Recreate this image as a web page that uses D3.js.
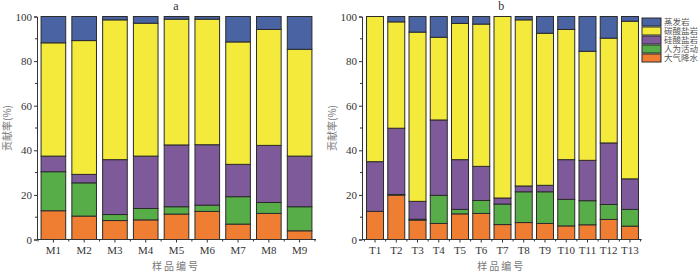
<!DOCTYPE html>
<html>
<head>
<meta charset="utf-8">
<script src="https://cdn.jsdelivr.net/npm/d3@7"></script>
<style>
  body { margin: 0; background: #fff; }
  svg { display: block; }
</style>
</head>
<body>
<svg id="chart" width="700" height="272"></svg>
<script>
// sources, bottom to top of each bar
const sources = ["大气降水", "人为活动", "硅酸盐岩", "碳酸盐岩", "蒸发岩"];
const colors = ["#ef7e32", "#57ae48", "#7f5a9a", "#f3ea3b", "#4a63a3"];

// panel a
const samplesA = ["M1", "M2", "M3", "M4", "M5", "M6", "M7", "M8", "M9"];
const rainA = [12.9, 10.5, 8.5, 8.8, 11.4, 12.6, 6.9, 11.7, 3.9];
const humanA = [17.5, 14.9, 2.7, 5.1, 3.3, 2.8, 12.3, 4.9, 10.8];
const silicateA = [7.0, 3.8, 24.6, 23.5, 27.7, 27.1, 14.5, 25.6, 22.7];
const carbonateA = [50.8, 60.0, 62.7, 59.6, 56.4, 56.3, 54.9, 52.0, 47.9];
const evaporiteA = [11.8, 10.8, 1.5, 3.0, 1.2, 1.2, 11.4, 5.8, 14.7];

// panel b
const samplesB = ["T1", "T2", "T3", "T4", "T5", "T6", "T7", "T8", "T9", "T10", "T11", "T12", "T13"];
const rainB = [12.6, 19.9, 8.7, 7.2, 11.5, 11.7, 6.7, 7.6, 7.2, 6.1, 6.6, 9.0, 6.0];
const humanB = [0, 0.3, 0.4, 12.6, 2.0, 5.8, 9.2, 13.8, 14.2, 11.9, 10.8, 6.7, 7.5];
const silicateB = [22.3, 29.7, 8.0, 33.8, 22.3, 15.3, 2.7, 2.6, 2.9, 17.8, 18.1, 27.6, 13.7];
const carbonateB = [65.1, 47.7, 75.9, 37.1, 61.1, 63.8, 81.4, 74.5, 68.2, 58.4, 48.9, 47.0, 70.7];
const evaporiteB = [0, 2.4, 7.0, 9.3, 3.1, 3.4, 0, 1.5, 7.5, 5.8, 15.6, 9.7, 2.1];

const yTicks = [0, 20, 40, 60, 80, 100];

const svg = d3.select("#chart");
const serif = "'Liberation Serif', 'Times New Roman', serif";
const cjk = "'Noto Sans CJK SC', sans-serif";

const y = d3.scaleLinear().domain([0, 100]).range([239.5, 16.5]);

function toRows(samples, cols) {
    return samples.map(function (s, i) {
        let r = {sample: s};
        sources.forEach(function (k, j) { r[k] = cols[j][i]; });
        return r;
    });
}

function panel(samples, cols, x0, x1, axisX, title) {
    let x = d3.scaleBand().domain(samples).range([x0, x1])
        .paddingInner(0.2).paddingOuter(0.1);
    let stacked = d3.stack().keys(sources)(toRows(samples, cols));

    let g = svg.append("g");
    g.selectAll("g.layer")
        .data(stacked)
        .enter().append("g")
        .attr("class", "layer")
        .attr("fill", function (d, i) { return colors[i]; })
        .selectAll("rect")
        .data(function (d) { return d; })
        .enter().append("rect")
        .filter(function (d) { return d[1] - d[0] > 0; })
        .attr("x", function (d) { return x(d.data.sample); })
        .attr("width", x.bandwidth())
        .attr("y", function (d) { return y(d[1]); })
        .attr("height", function (d) { return y(d[0]) - y(d[1]); })
        .attr("stroke", "#2b2b2b")
        .attr("stroke-width", 1);

    // left axis
    let yAxis = g.append("g").attr("transform", "translate(" + axisX + ",0)")
        .call(d3.axisLeft(y).tickValues(yTicks).tickSize(3).tickPadding(2));
    yAxis.append("g").selectAll("line")
        .data([10, 30, 50, 70, 90])
        .enter().append("line")
        .attr("x1", -2).attr("x2", 0)
        .attr("y1", function (d) { return y(d); })
        .attr("y2", function (d) { return y(d); })
        .attr("stroke", "#333");

    // bottom axis
    let xAxis = g.append("g").attr("transform", "translate(0," + y(0) + ")")
        .call(d3.axisBottom(x).tickSize(3).tickPadding(4).tickSizeOuter(0));
    xAxis.select(".domain").attr("d", "M" + axisX + ",0H" + (x1 + 1));
    xAxis.append("g").selectAll("line")
        .data(d3.range(samples.length + 1))
        .enter().append("line")
        .attr("x1", function (i) { return x0 + i * x.step(); })
        .attr("x2", function (i) { return x0 + i * x.step(); })
        .attr("y1", 0).attr("y2", 2)
        .attr("stroke", "#333");

    svg.selectAll(".tick text")
        .attr("font-family", serif)
        .attr("font-size", 11)
        .attr("fill", "#333");
    svg.selectAll(".domain, .tick line").attr("stroke", "#333");

    let cx = (axisX + x1) / 2;
    g.append("text")
        .attr("x", cx).attr("y", 10)
        .attr("text-anchor", "middle")
        .attr("font-family", serif)
        .attr("font-size", 12)
        .attr("fill", "#333")
        .text(title);

    g.append("text")
        .attr("x", cx).attr("y", 270)
        .attr("text-anchor", "middle")
        .attr("font-family", cjk)
        .attr("font-size", 10)
        .attr("letter-spacing", 2)
        .attr("fill", "#777")
        .text("样品编号");

    g.append("text")
        .attr("transform", "translate(" + (axisX - 26) + "," + y(50) + ") rotate(-90)")
        .attr("text-anchor", "middle")
        .attr("font-family", cjk)
        .attr("font-size", 10)
        .attr("fill", "#777")
        .text("贡献率(%)");
}

panel(samplesA, [rainA, humanA, silicateA, carbonateA, evaporiteA], 38, 315, 37, "a");
panel(samplesB, [rainB, humanB, silicateB, carbonateB, evaporiteB], 364.4, 640.6, 362, "b");

// legend, top entry is the top of the stack
let legend = svg.append("g").attr("transform", "translate(642,18)");
let items = sources.slice().reverse();
let itemColors = colors.slice().reverse();
items.forEach(function (name, i) {
    legend.append("rect")
        .attr("x", 0).attr("y", i * 9)
        .attr("width", 19).attr("height", 8)
        .attr("fill", itemColors[i])
        .attr("stroke", "#2b2b2b");
    legend.append("text")
        .attr("x", 22).attr("y", i * 9 + 7)
        .attr("font-family", cjk)
        .attr("font-size", 8.5)
        .attr("fill", "#555")
        .text(name);
});
</script>
</body>
</html>
